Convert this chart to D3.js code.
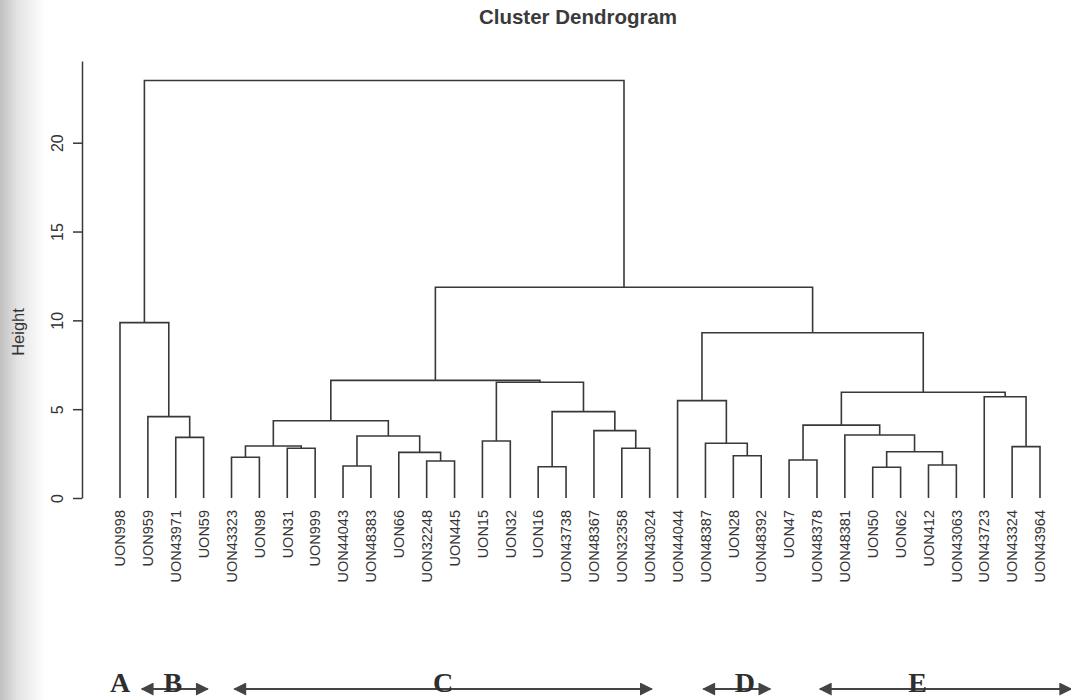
<!DOCTYPE html>
<html>
<head>
<meta charset="utf-8">
<script src="https://cdn.jsdelivr.net/npm/d3@7"></script>
<style>
  body { margin: 0; background: #fff; }
  svg { display: block; }
</style>
</head>
<body>
<div id="chart"></div>
<script>
// leaf order as printed along the bottom
var labels = ['UON998', 'UON959', 'UON43971', 'UON59', 'UON43323', 'UON98', 'UON31', 'UON999',
    'UON44043', 'UON48383', 'UON66', 'UON32248', 'UON445', 'UON15', 'UON32', 'UON16',
    'UON43738', 'UON48367', 'UON32358', 'UON43024', 'UON44044', 'UON48387', 'UON28', 'UON48392',
    'UON47', 'UON48378', 'UON48381', 'UON50', 'UON62', 'UON412', 'UON43063', 'UON43723',
    'UON43324', 'UON43964'];

// hclust style merges: negative = leaf (1-based), positive = earlier merge row (1-based)
var mergeLeft  = [-16, -28, -9, -30, -12, -25, -5, -23, -11, 2, -7, -19, -33, 7, -22, -14, -3,
    3, -27, -18, 6, 14, -2, 1, -21, -32, 21, 16, 22, 25, -1, 29, 31];
var mergeRight = [-17, -29, -10, -31, -13, -26, -6, -24, 5, 4, -8, -20, -34, 11, 8, -15, -4,
    9, 10, 12, 19, 18, 17, 20, 15, 13, 26, 24, 28, 27, 23, 30, 32];
var mergeHeight = [1.76, 1.73, 1.80, 1.86, 2.08, 2.14, 2.29, 2.38, 2.57, 2.60, 2.80, 2.80, 2.89,
    2.93, 3.08, 3.21, 3.41, 3.49, 3.55, 3.79, 4.10, 4.35, 4.58, 4.86, 5.48, 5.70, 5.95, 6.52,
    6.62, 9.30, 9.87, 11.86, 23.5];

var yTicks = [0, 5, 10, 15, 20];

// groups marked under the plot
var groupNames = ['A', 'B', 'C', 'D', 'E'];
var groupFirst = ['UON998', 'UON959', 'UON43323', 'UON48387', 'UON48378'];
var groupLast  = ['UON998', 'UON59', 'UON43024', 'UON48392', 'UON43964'];

var width = 1071;
var height = 700;
var ink = '#383838';

var svg = d3.select('#chart').append('svg')
    .attr('width', width)
    .attr('height', height);

// grey shadow along the left edge of the scan
var grad = svg.append('defs').append('linearGradient')
    .attr('id', 'edge')
    .attr('x1', 0).attr('x2', 1).attr('y1', 0).attr('y2', 0);
grad.append('stop').attr('offset', '0%').attr('stop-color', '#c0c0c0');
grad.append('stop').attr('offset', '40%').attr('stop-color', '#e4e4e4');
grad.append('stop').attr('offset', '100%').attr('stop-color', '#ffffff');
svg.append('rect')
    .attr('x', 0).attr('y', 0)
    .attr('width', 45).attr('height', height)
    .attr('fill', 'url(#edge)');

var x = d3.scalePoint()
    .domain(labels)
    .range([120, 1040]);

var y = d3.scaleLinear()
    .domain([0, 24.6])
    .range([498, 61]);

// title
svg.append('text')
    .attr('x', 578)
    .attr('y', 24)
    .attr('text-anchor', 'middle')
    .attr('fill', '#3a3a3a')
    .style('font', 'bold 20.5px "Liberation Sans", Arial, sans-serif')
    .text('Cluster Dendrogram');

// y axis
var yAxis = svg.append('g')
    .attr('transform', 'translate(82, 0)')
    .call(d3.axisLeft(y).tickValues(yTicks).tickSize(9).tickSizeOuter(0));

yAxis.select('.domain')
    .attr('stroke', ink)
    .attr('stroke-width', 1.5);
yAxis.selectAll('.tick line')
    .attr('stroke', ink)
    .attr('stroke-width', 1.5);
yAxis.selectAll('.tick text')
    .attr('transform', 'rotate(-90)')
    .attr('x', 0)
    .attr('y', -19)
    .attr('dy', 0)
    .attr('text-anchor', 'middle')
    .attr('fill', '#333')
    .style('font', '16px "Liberation Sans", Arial, sans-serif');

svg.append('text')
    .attr('transform', 'translate(18, 332) rotate(-90)')
    .attr('text-anchor', 'middle')
    .attr('dy', '0.35em')
    .attr('fill', '#333')
    .style('font', '16.5px "Liberation Sans", Arial, sans-serif')
    .text('Height');

// work out each merge's position from its children
var nodeX = [];
var nodeH = [];
function childPos(c) {
    if (c < 0) {
        return { x: x(labels[-c - 1]), h: 0 };
    }
    return { x: nodeX[c - 1], h: nodeH[c - 1] };
}

var segs = [];
for (i = 0; i < mergeHeight.length; i++) {
    var a = childPos(mergeLeft[i]);
    var b = childPos(mergeRight[i]);
    nodeX.push((a.x + b.x) / 2);
    nodeH.push(mergeHeight[i]);
    segs.push({ a: a, b: b, h: mergeHeight[i] });
}

var tree = svg.append('g')
    .attr('fill', 'none')
    .attr('stroke', ink)
    .attr('stroke-width', 1.6);

tree.selectAll('path')
    .data(segs)
    .enter().append('path')
    .attr('d', function(d) {
        return 'M' + d.a.x + ',' + y(d.a.h) +
            'V' + y(d.h) +
            'H' + d.b.x +
            'V' + y(d.b.h);
    });

// leaf labels
svg.append('g')
    .selectAll('text')
    .data(labels)
    .enter().append('text')
    .attr('transform', function(d) { return 'translate(' + x(d) + ', 510) rotate(-90)'; })
    .attr('text-anchor', 'end')
    .attr('dy', '0.36em')
    .attr('fill', '#353535')
    .style('font', '14.5px "Liberation Sans", Arial, sans-serif')
    .text(function(d) { return d; });

// group arrows under the plot
var defs = svg.select('defs');
defs.append('marker')
    .attr('id', 'head')
    .attr('viewBox', '0 0 10 10')
    .attr('refX', 9)
    .attr('refY', 5)
    .attr('markerWidth', 14)
    .attr('markerHeight', 13)
    .attr('markerUnits', 'userSpaceOnUse')
    .attr('orient', 'auto-start-reverse')
    .append('path')
    .attr('d', 'M0,0L10,5L0,10Z')
    .attr('fill', '#444');

var padL = [0, -6, 3, -2, 3];
var padR = [0, 4, 2, 9, 31];
var letterShift = [0, -2, 0, 8, -28];

var groups = svg.append('g');
for (i = 0; i < groupNames.length; i++) {
    var x0 = x(groupFirst[i]) + padL[i];
    var x1 = x(groupLast[i]) + padR[i];
    if (x1 - x0 > 1) {
        groups.append('line')
            .attr('x1', x0)
            .attr('x2', x1)
            .attr('y1', 689)
            .attr('y2', 689)
            .attr('stroke', '#444')
            .attr('stroke-width', 2)
            .attr('marker-start', 'url(#head)')
            .attr('marker-end', 'url(#head)');
    }
    groups.append('text')
        .attr('x', (x0 + x1) / 2 + letterShift[i])
        .attr('y', 692)
        .attr('text-anchor', 'middle')
        .attr('fill', '#2e2e2e')
        .style('font', 'bold 28px "Liberation Serif", "Times New Roman", serif')
        .text(groupNames[i]);
}
</script>
</body>
</html>
